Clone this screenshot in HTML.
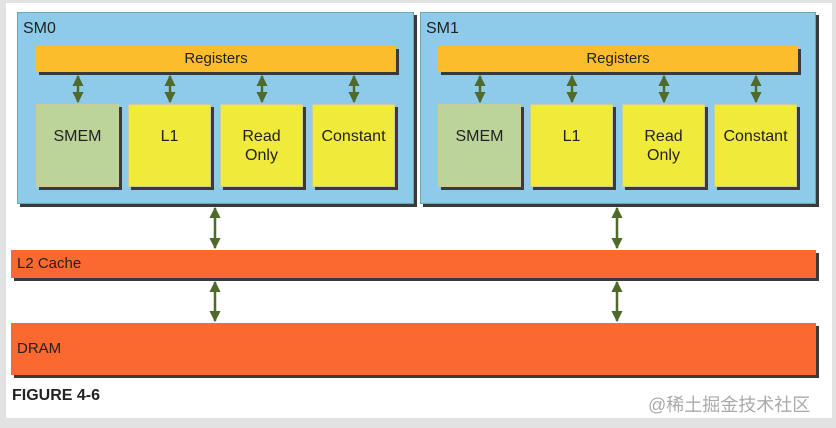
<!DOCTYPE html><html><head><style>
body{margin:0;width:836px;height:428px;background:#e2e2e2;font-family:"Liberation Sans",sans-serif;position:relative;overflow:hidden}
.a{position:absolute;box-sizing:border-box}
.sh{box-shadow:3px 3px 0 #3a3a3a}
.sm{background:#8ecbea;border:1px solid #6aa}
.reg{background:#fbbd2c;text-align:center;font-size:15px;line-height:26px;color:#222}
.bx{font-size:16px;color:#222;text-align:center;line-height:19px;border:1px solid #cc9;padding-top:22px}
.y{background:#f0ea3a}.g{background:#bcd39a}
.or{background:#fb6830;color:#222}
</style></head><body>
<div class="a" style="left:6px;top:3px;width:826px;height:415px;background:#fff"></div>
<div class="a sm sh" style="left:17px;top:12px;width:397px;height:192px"></div>
<div class="a sm sh" style="left:420px;top:12px;width:396px;height:192px"></div>
<div class="a" style="left:23px;top:20px;font-size:16px;color:#222">SM0</div>
<div class="a" style="left:426px;top:20px;font-size:16px;color:#222">SM1</div>
<div class="a reg sh" style="left:36px;top:46px;width:360px;height:26px">Registers</div>
<div class="a reg sh" style="left:438px;top:46px;width:360px;height:26px">Registers</div>
<div class="a bx g sh" style="left:36px;top:104px;width:83px;height:83px">SMEM</div>
<div class="a bx y sh" style="left:128px;top:104px;width:83px;height:83px">L1</div>
<div class="a bx y sh" style="left:220px;top:104px;width:83px;height:83px">Read<br>Only</div>
<div class="a bx y sh" style="left:312px;top:104px;width:83px;height:83px">Constant</div>
<div class="a bx g sh" style="left:438px;top:104px;width:83px;height:83px">SMEM</div>
<div class="a bx y sh" style="left:530px;top:104px;width:83px;height:83px">L1</div>
<div class="a bx y sh" style="left:622px;top:104px;width:83px;height:83px">Read<br>Only</div>
<div class="a bx y sh" style="left:714px;top:104px;width:83px;height:83px">Constant</div>
<div class="a or sh" style="left:11px;top:250px;width:805px;height:28px;font-size:15px;line-height:28px;padding-left:6px">L2 Cache</div>
<div class="a or sh" style="left:11px;top:323px;width:805px;height:52px;font-size:15px;line-height:52px;padding-left:6px">DRAM</div>
<div class="a" style="left:12px;top:387px;font-size:16px;font-weight:bold;color:#222">FIGURE 4-6</div>
<div class="a" style="left:648px;top:391px;font-size:18px;color:#aaa;font-family:'Liberation Sans','Noto Sans CJK SC',sans-serif">@稀土掘金技术社区</div>
<svg class="a" style="left:0;top:0" width="836" height="428">
<defs><marker id="m" viewBox="0 0 10 10" refX="9" refY="5" markerWidth="4.5" markerHeight="4.5" orient="auto-start-reverse"><path d="M0,0L10,5L0,10z" fill="#4f6a2a"/></marker></defs>
<g stroke="#4f6a2a" stroke-width="2.5" marker-start="url(#m)" marker-end="url(#m)">
<line x1="78" y1="76" x2="78" y2="102"/><line x1="170" y1="76" x2="170" y2="102"/><line x1="262" y1="76" x2="262" y2="102"/><line x1="354" y1="76" x2="354" y2="102"/>
<line x1="480" y1="76" x2="480" y2="102"/><line x1="572" y1="76" x2="572" y2="102"/><line x1="664" y1="76" x2="664" y2="102"/><line x1="756" y1="76" x2="756" y2="102"/>
<line x1="215" y1="208" x2="215" y2="248"/><line x1="617" y1="208" x2="617" y2="248"/>
<line x1="215" y1="282" x2="215" y2="321"/><line x1="617" y1="282" x2="617" y2="321"/>
</g></svg>
</body></html>
